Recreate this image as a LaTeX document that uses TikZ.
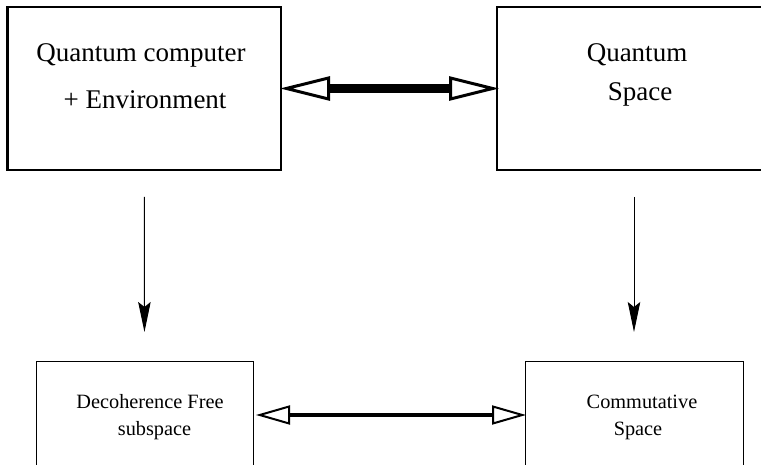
\documentclass[tikz,border=0pt]{standalone}
\usepackage{fontspec}
\setmainfont{Liberation Serif}
\usetikzlibrary{arrows.meta}
\begin{document}
\begin{tikzpicture}[x=1pt,y=-1pt,
  bigbox/.style={draw, line width=2.5pt, outer sep=0pt, inner sep=0pt},
  smallbox/.style={draw, line width=1pt, outer sep=0pt, inner sep=0pt},
  bigtxt/.style={anchor=base, inner sep=0pt, font=\fontsize{27}{32}\selectfont},
  smalltxt/.style={anchor=base, inner sep=0pt, font=\fontsize{20.3}{24}\selectfont},
  down/.style={line width=1pt, -{Stealth[length=30pt,width=12.5pt,inset=5pt]}},
  bigdouble/.style={line width=8.5pt,
    {Triangle[open,length=50pt,width=24pt,line width=3pt]}-{Triangle[open,length=50pt,width=24pt,line width=3pt]}},
  smalldouble/.style={line width=4pt,
    {Triangle[open,length=34pt,width=19pt,line width=2pt]}-{Triangle[open,length=34pt,width=19pt,line width=2pt]}}
]
\useasboundingbox (0,0) rectangle (761,465);
\clip (0,0) rectangle (761,465);

\node[bigbox, minimum width=273.5pt, minimum height=163pt] (tl) at (144.25,88.5) {};
\node[bigbox, minimum width=280pt, minimum height=163pt] (tr) at (637,88.5) {};
\node[smallbox, minimum width=217pt, minimum height=108pt] (bl) at (144.5,415) {};
\node[smallbox, minimum width=218pt, minimum height=108pt] (br) at (634,415) {};

\node[bigtxt] (t1) at (141,62) {Quantum computer};
\node[bigtxt] (t2) at (145,109) {+ Environment};
\node[bigtxt] (t3) at (637,62) {Quantum};
\node[bigtxt] (t4) at (640,101) {Space};
\node[smalltxt] (b1) at (150,408) {Decoherence Free};
\node[smalltxt] (b2) at (154.5,435) {subspace};
\node[smalltxt] (b3) at (642,408) {Commutative};
\node[smalltxt] (b4) at (638,435) {Space};

\draw[down, shorten <=27pt, shorten >=29pt] (tl.south) -- (bl.north);
\draw[down, shorten <=27pt, shorten >=29pt] (br.north |- tr.south) -- (br.north);
\draw[bigdouble, shorten <=-1pt, shorten >=-2pt] (tl.east) -- (tr.west);
\draw[smalldouble, shorten <=3pt, shorten >=-1pt] (bl.east) -- (br.west);
\end{tikzpicture}
\end{document}
